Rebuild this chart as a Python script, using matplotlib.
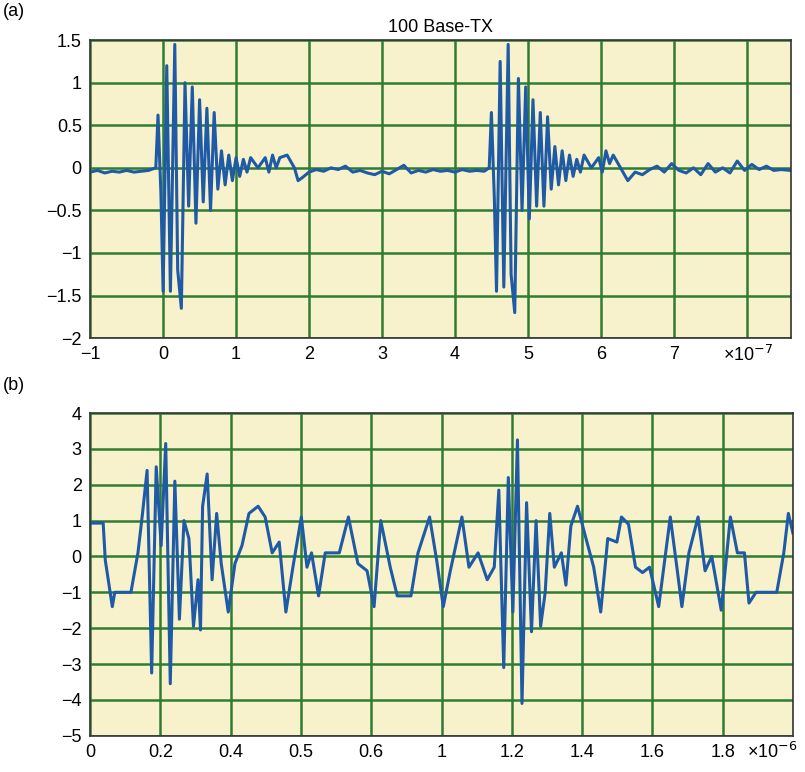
import matplotlib.pyplot as plt

plt.rcParams["font.family"] = ["Liberation Sans", "DejaVu Sans"]

# panel (a): time in units of 1e-7 s
t_a = [-1.0, -0.9, -0.8, -0.7, -0.6, -0.5, -0.4, -0.3, -0.2, -0.1,
       -0.07, -0.03, 0.0, 0.05, 0.1, 0.16, 0.2, 0.25, 0.3, 0.35, 0.4, 0.45,
       0.5, 0.55, 0.6, 0.65, 0.7, 0.75, 0.8, 0.85, 0.9, 0.95, 1.0, 1.05,
       1.1, 1.15, 1.2, 1.3, 1.4, 1.45, 1.5, 1.55, 1.6, 1.7, 1.8, 1.85, 1.9,
       2.0, 2.1, 2.2, 2.3, 2.4, 2.5, 2.6, 2.7, 2.8, 2.9, 3.0, 3.1, 3.2, 3.3,
       3.4, 3.5, 3.6, 3.7, 3.8, 3.9, 4.0, 4.1, 4.2, 4.3, 4.4, 4.47,
       4.5, 4.54, 4.57, 4.62, 4.67, 4.73, 4.77, 4.82, 4.87, 4.92, 4.97,
       5.02, 5.07, 5.12, 5.17, 5.22, 5.27, 5.32, 5.37, 5.42, 5.47, 5.52,
       5.57, 5.62, 5.67, 5.72, 5.77, 5.87, 5.97, 6.02, 6.07, 6.12, 6.17,
       6.27, 6.37, 6.42, 6.47, 6.57, 6.67, 6.77, 6.87, 6.97, 7.07, 7.17,
       7.27, 7.37, 7.47, 7.57, 7.67, 7.77, 7.87, 7.97, 8.07, 8.17, 8.27,
       8.37, 8.47, 8.6]
v_a = [-0.05, -0.03, -0.06, -0.04, -0.05, -0.03, -0.05, -0.04, -0.03, 0.0,
       0.62, -0.3, -1.45, 1.2, -1.45, 1.45, -1.2, -1.65, 1.0, -0.45, 0.95, -0.65,
       0.8, -0.4, 0.7, -0.5, 0.65, -0.25, 0.2, -0.2, 0.15, -0.15, 0.12, -0.1,
       0.1, -0.05, 0.12, 0.0, 0.12, -0.05, 0.15, 0.0, 0.12, 0.15, 0.0, -0.15, -0.12,
       -0.05, -0.02, -0.04, 0.0, -0.02, 0.02, -0.05, -0.03, -0.06, -0.08, -0.04,
       -0.07, -0.02, 0.03, -0.06, -0.03, -0.05, -0.02, -0.04, -0.03, -0.05,
       -0.02, -0.04, -0.03, -0.04, 0.0,
       0.65, -0.35, -1.45, 1.25, -1.4, 1.45, -1.25, -1.7, 1.05, -0.5, 0.95,
       -0.6, 0.8, -0.45, 0.65, -0.45, 0.6, -0.25, 0.25, -0.2, 0.2, -0.15,
       0.15, -0.1, 0.1, -0.05, 0.15, 0.0, 0.12, -0.05, 0.2, 0.05, 0.15,
       0.0, -0.15, -0.1, -0.05, -0.08, -0.02, 0.02, -0.05, 0.05, -0.03,
       -0.06, 0.0, -0.08, 0.05, -0.05, 0.0, -0.06, 0.08, -0.03, 0.04,
       -0.02, 0.02, -0.03, -0.02, -0.03]

# panel (b): time in plot units (ten grid cells of 0.2)
t_b = [0.0, 0.037, 0.043, 0.063, 0.070, 0.116, 0.136, 0.149, 0.162, 0.175,
       0.188, 0.202, 0.215, 0.228, 0.241, 0.254, 0.267, 0.281, 0.294, 0.307,
       0.314, 0.320, 0.333, 0.347, 0.360, 0.373, 0.393, 0.412, 0.432, 0.452,
       0.478, 0.498, 0.518, 0.538, 0.557, 0.577, 0.601, 0.617, 0.630, 0.650,
       0.669, 0.709, 0.735, 0.762, 0.788, 0.808, 0.827, 0.854, 0.874, 0.913,
       0.933, 0.966, 0.986, 1.005, 1.025, 1.058, 1.078, 1.104, 1.130, 1.150,
       1.163, 1.177, 1.190, 1.203, 1.216, 1.229, 1.242, 1.256, 1.269, 1.282,
       1.295, 1.308, 1.321, 1.341, 1.354, 1.368, 1.387, 1.407, 1.433, 1.453,
       1.473, 1.499, 1.512, 1.532, 1.552, 1.572, 1.592, 1.618, 1.651, 1.671,
       1.684, 1.704, 1.730, 1.750, 1.769, 1.796, 1.822, 1.842, 1.862, 1.875,
       1.895, 1.954, 1.974, 1.987, 2.0]
v_b = [0.93, 0.93, -0.1, -1.4, -1.0, -1.0, 0.1, 1.2, 2.4, -3.25,
       2.5, 0.3, 3.15, -3.55, 2.1, -1.75, 1.0, 0.5, -1.95, -0.65,
       -2.05, 1.4, 2.3, -0.65, 1.2, -0.2, -1.55, -0.2, 0.3, 1.2,
       1.4, 1.1, 0.1, 0.4, -1.55, -0.3, 1.1, -0.3, 0.1, -1.1,
       0.1, 0.1, 1.1, -0.2, -0.4, -1.4, 1.0, -0.3, -1.1, -1.1,
       0.1, 1.1, -0.1, -1.4, -0.4, 1.1, -0.3, 0.1, -0.65, -0.3,
       1.85, -3.1, 2.2, -1.55, 3.25, -4.1, 1.5, -2.1, 1.0, -1.95,
       -1.0, 1.2, -0.3, 0.1, -0.8, 0.85, 1.4, 0.65, -0.3, -1.55,
       0.5, 0.4, 1.1, 0.9, -0.3, -0.45, -0.3, -1.4, 1.1, -0.4,
       -1.4, 0.1, 1.1, -0.4, 0.0, -1.5, 1.1, 0.1, 0.1, -1.3,
       -1.0, -1.0, 0.1, 1.2, 0.65]

b_tick_pos = [0.2, 0.4, 0.6, 0.8, 1.0, 1.2, 1.4, 1.6, 1.8]
b_tick_lab = ["0.2", "0.4", "0.5", "0.6", "1", "1.2", "1.4", "1.6", "1.8"]

bg = "#f7f1cc"
grid_c = "#2f7d32"
line_c = "#1f5aa6"

fig = plt.figure(figsize=(8.05, 7.72), dpi=100)
ax1 = fig.add_axes([0.112, 0.562, 0.870, 0.386])
ax2 = fig.add_axes([0.112, 0.047, 0.873, 0.418])

for ax in (ax1, ax2):
    ax.set_facecolor(bg)
    ax.grid(True, color=grid_c, linewidth=1.8)
    ax.set_axisbelow(True)
    ax.tick_params(length=0, labelsize=13, pad=6)
    for s in ax.spines.values():
        s.set_color("#333333")
        s.set_linewidth(1.2)

ax1.plot(t_a, v_a, color=line_c, linewidth=2.2)
ax1.set_xlim(-1, 8.6)
ax1.set_ylim(-2, 1.5)
ax1.set_xticks(range(-1, 9))
ax1.set_xticklabels(["\u22121", "0", "1", "2", "3", "4", "5", "6", "7", ""])
ax1.set_yticks([-2, -1.5, -1, -0.5, 0, 0.5, 1, 1.5])
ax1.set_yticklabels(["\u22122", "\u22121.5", "\u22121", "\u22120.5", "0", "0.5", "1", "1.5"])
ax1.set_title("100 Base-TX", fontsize=13, pad=6)
ax1.text(7.68, -2.2, "\u00d710$^{-7}$", fontsize=13, va="center")

ax2.plot(t_b, v_b, color=line_c, linewidth=2.2)
ax2.set_xlim(0, 2)
ax2.set_ylim(-5, 4)
ax2.set_xticks([0] + b_tick_pos)
ax2.set_xticklabels(["0"] + b_tick_lab)
ax2.set_yticks(range(-5, 5))
ax2.set_yticklabels([("\u2212%d" % -v) if v < 0 else str(v) for v in range(-5, 5)])
ax2.text(1.87, -5.45, "\u00d710$^{-6}$", fontsize=13, va="center")

fig.text(0.003, 0.985, "(a)", fontsize=13, va="center")
fig.text(0.003, 0.5, "(b)", fontsize=13, va="center")

fig.savefig("out.png", dpi=100)
